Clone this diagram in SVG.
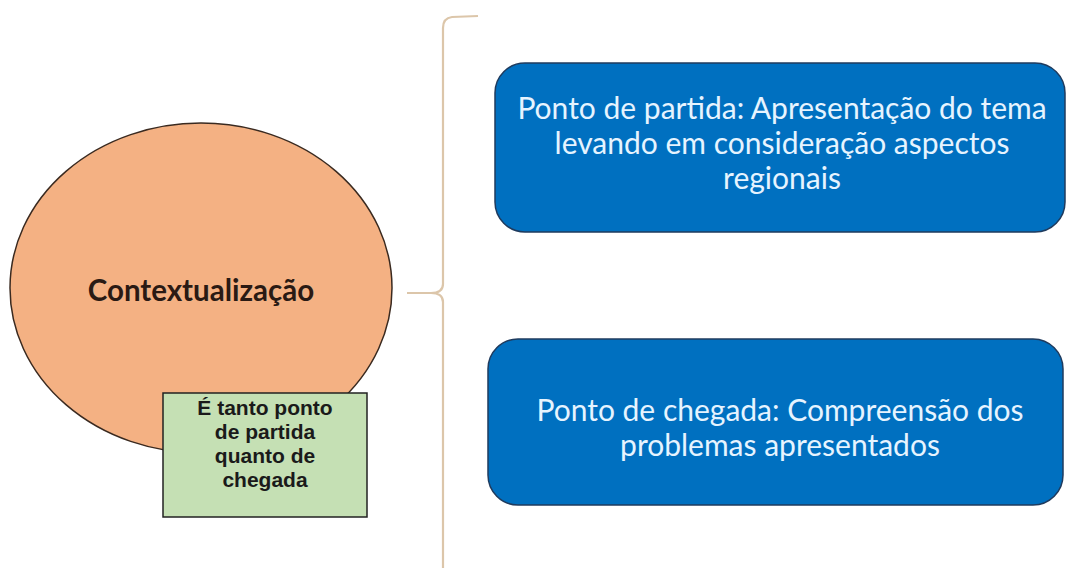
<svg xmlns="http://www.w3.org/2000/svg" width="1067" height="568" viewBox="0 0 1067 568">
<style>
.blue{fill:#0070c0;stroke:#1f3b5e;stroke-width:1.5}
.btxt{font-family:Lato,"Open Sans",sans-serif;font-size:30px;fill:#e6f4ff;text-anchor:middle}
.gtxt{font-family:"Liberation Sans",Arial,sans-serif;font-weight:bold;font-size:21px;fill:#1a1a1a;text-anchor:middle}
.brace{fill:none;stroke:#dcc6aa;stroke-width:2.2}
</style>
<rect width="1067" height="568" fill="#ffffff"/>
<g id="connectors">
<path class="brace" d="M478,16 L452,17 Q443,18 443,28 L443,284 Q443,293 431,293 L407,293 M431,293 Q443,293 443,302 L443,568"/>
</g>
<g id="contextualizacao">
<ellipse cx="201" cy="288" rx="191" ry="165" fill="#f4b183" stroke="#3a2a20" stroke-width="1.5"/>
<text x="201" y="301" font-family="Lato,'Liberation Sans',sans-serif" font-weight="bold" font-size="29.5" fill="#2a1a14" text-anchor="middle">Contextualização</text>
</g>
<g id="nota">
<rect x="163" y="393" width="204" height="124" fill="#c5e0b4" stroke="#222222" stroke-width="1.5"/>
<text class="gtxt"><tspan x="265" y="415">É tanto ponto</tspan><tspan x="265" y="439">de partida</tspan><tspan x="265" y="463">quanto de</tspan><tspan x="265" y="487">chegada</tspan></text>
</g>
<g id="partida">
<rect class="blue" x="495" y="63" width="570" height="169" rx="30" ry="30"/>
<text class="btxt"><tspan x="782" y="119">Ponto de partida: Apresentação do tema</tspan><tspan x="782" y="154">levando em consideração aspectos</tspan><tspan x="782" y="189">regionais</tspan></text>
</g>
<g id="chegada">
<rect class="blue" x="488" y="339" width="575" height="166" rx="30" ry="30"/>
<text class="btxt"><tspan x="780" y="421">Ponto de chegada: Compreensão dos</tspan><tspan x="780" y="456">problemas apresentados</tspan></text>
</g>
</svg>
